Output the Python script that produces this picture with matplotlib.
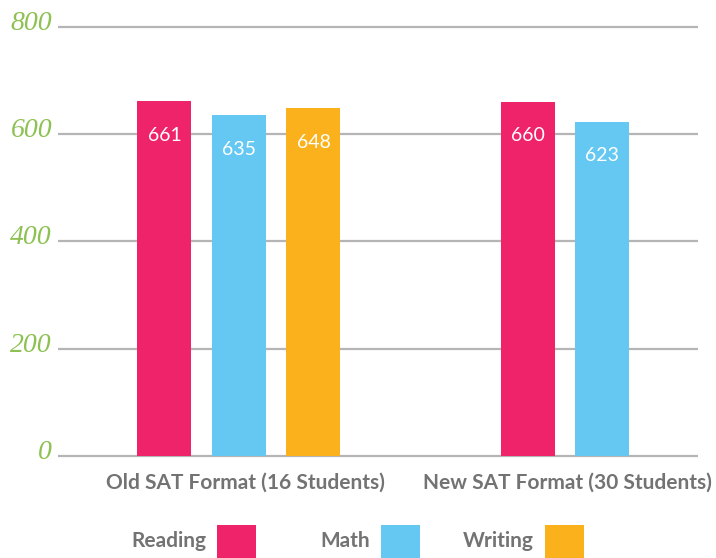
import matplotlib
matplotlib.use("Agg")
import matplotlib.pyplot as plt
from matplotlib.patches import Rectangle
import numpy as np

categories = ["Old SAT Format (16 Students)", "New SAT Format (30 Students)"]
series_names = ["Reading", "Math", "Writing"]
reading = [661, 660]
math = [635, 623]
writing = [648, np.nan]
y_ticks = [0, 200, 400, 600, 800]

colors = ["#EE2369", "#64C8F2", "#FBB11B"]
tick_green = "#8DC152"
grid_gray = "#B5B5B5"
text_gray = "#737373"

W, H = 716, 558
fig = plt.figure(figsize=(W / 100, H / 100), dpi=100)

# axes geometry in pixels
px_per_unit = 0.5366
y_lo, y_hi = -4, 812
ax_left, ax_right = 58, 698
ax_bottom_px = 456 + (-y_lo) * px_per_unit
ax_h_px = (y_hi - y_lo) * px_per_unit
ax = fig.add_axes([ax_left / W, 1 - ax_bottom_px / H, (ax_right - ax_left) / W, ax_h_px / H])

group_px = 363.0
x_center0 = 239.0
ax.set_xlim((ax_left - x_center0) / group_px, (ax_right - x_center0) / group_px)
ax.set_ylim(y_lo, y_hi)

x = np.arange(len(categories))
offset = 74.5 / group_px
width = 54 / group_px
series = [reading, math, writing]
for i, (vals, col) in enumerate(zip(series, colors)):
    vals = np.array(vals, dtype=float)
    mask = ~np.isnan(vals)
    xs = x[mask] + (i - 1) * offset
    ax.bar(xs, vals[mask], width=width, color=col, zorder=3, linewidth=0)
    for xi, v in zip(xs, vals[mask]):
        ax.annotate(f"{int(v)}", xy=(xi, v), xytext=(0, -34), textcoords="offset pixels",
                    ha="center", va="center", color="white", fontsize=14,
                    family="Lato", zorder=4)

# gridlines and tick labels
for t in y_ticks:
    ax.axhline(t, color=grid_gray, linewidth=1.6, zorder=1)
    ax.annotate(str(t), xy=(0, t), xycoords=("axes fraction", "data"),
                xytext=(-6, -3), textcoords="offset pixels", ha="right", va="baseline",
                color=tick_green, fontsize=20, family="Liberation Serif", style="italic")

ax.set_xticks([])
ax.set_yticks([])
for s in ax.spines.values():
    s.set_visible(False)
ax.patch.set_alpha(0)

# category labels
label_px = [245, 567]
for lp, cat in zip(label_px, categories):
    ax.annotate(cat, xy=((lp - x_center0) / group_px, 0), xytext=(0, -27),
                textcoords="offset pixels", ha="center", va="center",
                color=text_gray, fontsize=15, family="Lato", weight="bold")

# legend
box_left0, box_step, box_w, box_top = 217, 164, 39, 525
for i, (name, col) in enumerate(zip(series_names, colors)):
    bl = box_left0 + i * box_step
    fig.patches.append(Rectangle((bl / W, 1 - (box_top + 40) / H), box_w / W, 40 / H,
                                 transform=fig.transFigure, color=col, linewidth=0))
    fig.text((bl - 11) / W, 1 - 541 / H, name, ha="right", va="center",
             color=text_gray, fontsize=15, family="Lato", weight="bold")

fig.savefig("out.png", dpi=100)
